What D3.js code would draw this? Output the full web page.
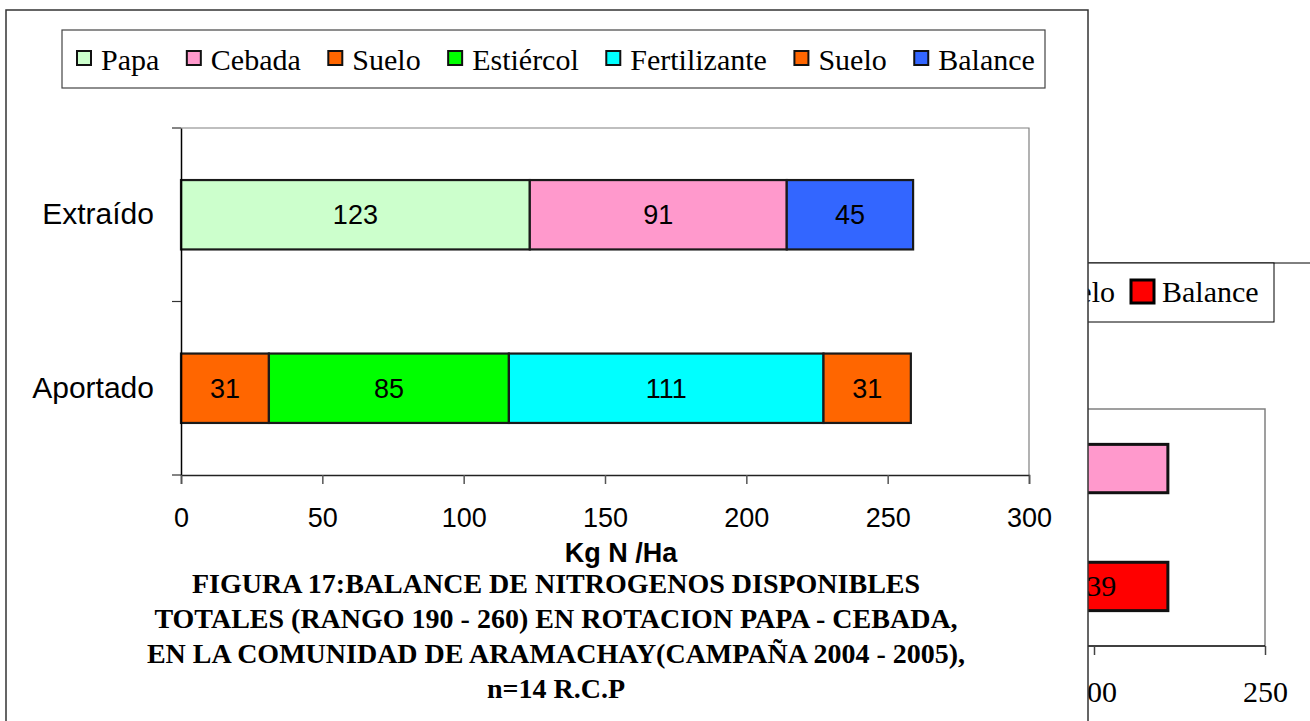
<!DOCTYPE html>
<html><head><meta charset="utf-8">
<script src="https://cdn.jsdelivr.net/npm/d3@7"></script>
<style>body{margin:0;background:#fff;} svg{display:block;}</style>
</head><body>
<svg id="c" width="1310" height="721"></svg>
<script>
// ---- Main chart data ----
const categories = ["Extraído", "Aportado"];
const extraidoNames = ["Papa", "Cebada", "Balance"];
const extraidoValues = [123.4, 90.9, 44.7];
const extraidoLabels = ["123", "91", "45"];
const aportadoNames = ["Suelo", "Estiércol", "Fertilizante", "Suelo"];
const aportadoValues = [31.1, 84.9, 111.3, 30.9];
const aportadoLabels = ["31", "85", "111", "31"];
const legendNames = ["Papa", "Cebada", "Suelo", "Estiércol", "Fertilizante", "Suelo", "Balance"];
const legendColors = ["#CCFFCC", "#FF99CC", "#FF6600", "#00FF00", "#00FFFF", "#FF6600", "#3366FF"];
const xTicks = [0, 50, 100, 150, 200, 250, 300];
const xTitle = "Kg N /Ha";
const titleLines = [
  "FIGURA 17:BALANCE DE NITROGENOS DISPONIBLES",
  "TOTALES (RANGO 190 - 260) EN ROTACION PAPA - CEBADA,",
  "EN LA COMUNIDAD DE ARAMACHAY(CAMPAÑA 2004 - 2005),",
  "n=14 R.C.P"
];
// ---- Background (partially hidden) chart data: only its visible part ----
const bgRows = ["r1", "r2"];
const bgRowTotals = [221.6, 221.6];
const bgRowColors = ["#FF99CC", "#FF0000"];
const bgBalanceValue = 39;
const bgBalanceLabel = "39";
const bgTicks = [200, 250];
const bgLegendNames = ["Suelo", "Balance"];
const bgLegendColors = ["#FF6600", "#FF0000"];

const colorOf = n => legendColors[legendNames.indexOf(n)];
const svg = d3.select("#c");
const SERIF = "Liberation Serif, Times New Roman, serif";
const SANS = "Liberation Sans, Arial, sans-serif";

// ================= Background chart =================
const bg = svg.append("g");
const bx = d3.scaleLinear().domain([0, 250]).range([410, 1265]);
const by = d3.scaleBand().domain(bgRows).range([409, 646]).paddingInner(0.59).paddingOuter(0.3);
bg.append("line").attr("x1", 1000).attr("x2", 1310).attr("y1", 263).attr("y2", 263).attr("stroke", "#000").attr("stroke-width", 1);
bg.append("rect").attr("x", 1000).attr("y", 263).attr("width", 1274 - 1000).attr("height", 59)
  .attr("fill", "#fff").attr("stroke", "#000").attr("stroke-width", 1);
bg.append("text").attr("x", 1115).attr("y", 302).attr("text-anchor", "end")
  .attr("font-family", SERIF).attr("font-size", 30).text(bgLegendNames[0]);
bg.append("rect").attr("x", 1131).attr("y", 280).attr("width", 23).attr("height", 23)
  .attr("fill", bgLegendColors[1]).attr("stroke", "#000").attr("stroke-width", 3);
bg.append("text").attr("x", 1162).attr("y", 302)
  .attr("font-family", SERIF).attr("font-size", 30).text(bgLegendNames[1]);
bg.append("path").attr("d", `M1000,409H${bx(250)}V646`).attr("fill", "none").attr("stroke", "#808080").attr("stroke-width", 1.5);
bgRows.forEach((r, i) => {
  bg.append("rect").attr("x", 1000).attr("y", by(r)).attr("width", bx(bgRowTotals[i]) - 1000).attr("height", by.bandwidth())
    .attr("fill", bgRowColors[i]).attr("stroke", "#111").attr("stroke-width", 3);
});
bg.append("text").attr("x", (bx(bgRowTotals[1] - bgBalanceValue) + bx(bgRowTotals[1])) / 2).attr("y", by("r2") + by.bandwidth() / 2 + 10)
  .attr("text-anchor", "middle").attr("font-family", SERIF).attr("font-size", 30).text(bgBalanceLabel);
const bgAxis = bg.append("g").attr("transform", "translate(0,646)")
  .call(d3.axisBottom(bx).tickValues(bgTicks).tickSize(9).tickPadding(26).tickFormat(d3.format("d")));
bgAxis.select(".domain").attr("d", `M1000,0H${bx(250)}`).attr("stroke", "#000").attr("stroke-width", 1.5);
bgAxis.selectAll(".tick line").attr("stroke", "#444").attr("stroke-width", 1.5);
bgAxis.selectAll("text").attr("font-family", SERIF).attr("font-size", 30).attr("fill", "#000");

// ================= Main chart =================
const g = svg.append("g");
g.append("rect").attr("x", 6).attr("y", 10).attr("width", 1082).attr("height", 730)
  .attr("fill", "#fff").attr("stroke", "#333").attr("stroke-width", 1.5);

const x = d3.scaleLinear().domain([0, 300]).range([181, 1029]);
const y = d3.scaleBand().domain(categories).range([128, 475]).paddingInner(0.6).paddingOuter(0.3);

g.append("path").attr("d", `M${x(0)},128H${x(300)}V475`).attr("fill", "none").attr("stroke", "#808080").attr("stroke-width", 1.2);

function drawStack(cat, names, values, labels) {
  let acc = 0;
  names.forEach((n, i) => {
    const x0 = x(acc), x1 = x(acc + values[i]);
    g.append("rect").attr("x", x0).attr("y", y(cat)).attr("width", x1 - x0).attr("height", y.bandwidth())
      .attr("fill", colorOf(n)).attr("stroke", "#1a1a1a").attr("stroke-width", 2.2);
    g.append("text").attr("x", (x0 + x1) / 2).attr("y", y(cat) + y.bandwidth() / 2 + 9.5)
      .attr("text-anchor", "middle").attr("font-family", SANS).attr("font-size", 27)
      .text(labels[i]);
    acc += values[i];
  });
}
drawStack("Extraído", extraidoNames, extraidoValues, extraidoLabels);
drawStack("Aportado", aportadoNames, aportadoValues, aportadoLabels);

const yAxis = g.append("g").attr("transform", `translate(${x(0)},0)`)
  .call(d3.axisLeft(y).tickSize(0).tickPadding(27));
yAxis.select(".domain").attr("stroke", "#000").attr("stroke-width", 1.5);
yAxis.selectAll("text").attr("font-family", SANS).attr("font-size", 30).attr("fill", "#000");
[128, (y("Extraído") + y.bandwidth() + y("Aportado")) / 2, 475].forEach(v => {
  g.append("line").attr("x1", 172).attr("x2", x(0)).attr("y1", v).attr("y2", v).attr("stroke", "#333").attr("stroke-width", 1.2);
});

const xAxis = g.append("g").attr("transform", "translate(0,475)")
  .call(d3.axisBottom(x).tickValues(xTicks).tickSize(9).tickPadding(24));
xAxis.select(".domain").attr("stroke", "#222").attr("stroke-width", 1.5);
xAxis.selectAll(".tick line").attr("stroke", "#555").attr("stroke-width", 1.5);
xAxis.selectAll("text").attr("font-family", SANS).attr("font-size", 27).attr("fill", "#000");

g.append("text").attr("x", 621).attr("y", 562).attr("text-anchor", "middle")
  .attr("font-family", SANS).attr("font-weight", "bold").attr("font-size", 27).text(xTitle);

titleLines.forEach((t, i) => {
  g.append("text").attr("x", 556).attr("y", 593 + i * 35).attr("text-anchor", "middle")
    .attr("font-family", SERIF).attr("font-weight", "bold").attr("font-size", 28).text(t);
});

g.append("rect").attr("x", 62).attr("y", 30).attr("width", 983).attr("height", 58)
  .attr("fill", "#fff").attr("stroke", "#444").attr("stroke-width", 1.2);
let lx = 77;
legendNames.forEach((n, i) => {
  g.append("rect").attr("x", lx).attr("y", 51).attr("width", 14).attr("height", 14)
    .attr("fill", legendColors[i]).attr("stroke", "#111").attr("stroke-width", 2);
  const t = g.append("text").attr("x", lx + 24).attr("y", 70)
    .attr("font-family", SERIF).attr("font-size", 30).text(n);
  lx += 24 + t.node().getComputedTextLength() + 27.5;
});
</script>
</body></html>
